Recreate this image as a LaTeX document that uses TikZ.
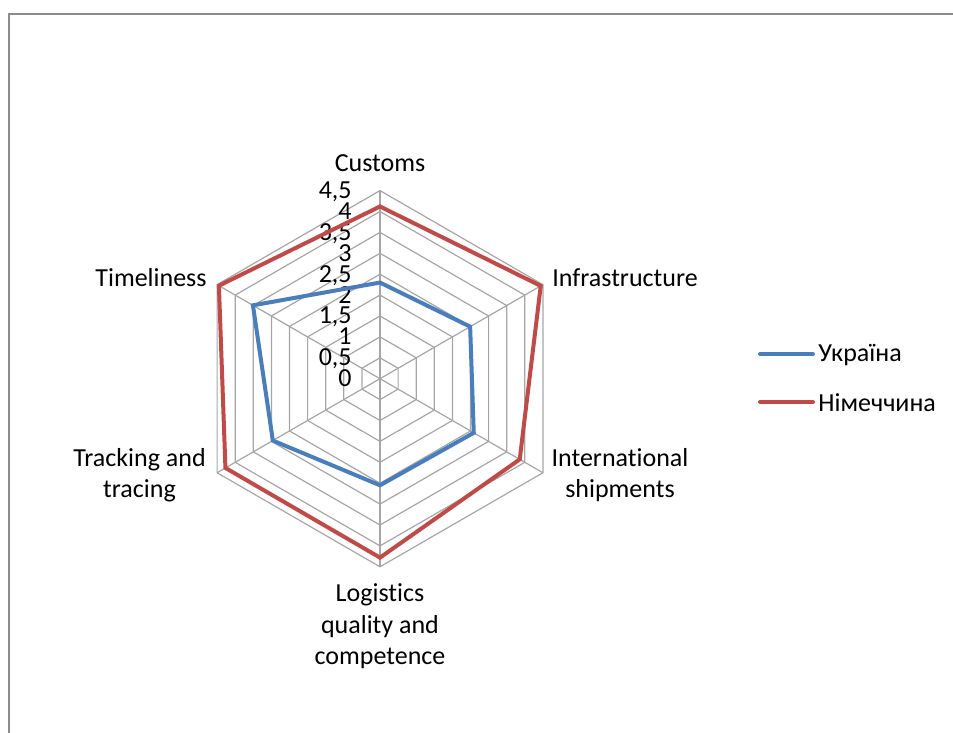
\documentclass[tikz,border=0pt]{standalone}
\usepackage{fontspec}
\setmainfont{Carlito}[Ligatures=NoCommon]
\usetikzlibrary{positioning}
\definecolor{ukrblue}{HTML}{4A7EBB}
\definecolor{deured}{HTML}{BE4B48}
\definecolor{gridgray}{HTML}{A6A6A6}
\definecolor{framegray}{HTML}{8C8C8C}
\tikzset{
  lbl/.style={font=\fontsize{13}{15.8}\selectfont, inner sep=0pt, align=center},
  ring/.style={gridgray, line width=0.6pt},
  serie/.style={line width=2pt, line join=miter}
}
\begin{document}
\begin{tikzpicture}[x=0.5pt,y=0.5pt]
  \useasboundingbox (0,0) rectangle (953,733);
  \draw[framegray, line width=1pt] (8.5,0) |- (953,718.5);
  \begin{scope}[shift={(380,354.3)}]
    % grille
    \foreach \r in {1,...,9}
      \draw[ring] (90:\r*20.9) \foreach \a in {30,-30,-90,-150,150} { -- (\a:\r*20.9) } -- cycle;
    \foreach \a in {90,30,-30,-90,-150,150}
      \draw[ring] (0,0) -- (\a:188.1);
    \foreach \t [count=\i from 0] in {0,{0,5},1,{1,5},2,{2,5},3,{3,5},4,{4,5}}
      \node[lbl, anchor=base east] (tick\i) at (-28,\i*20.9-8) {\t};
    % series
    \draw[serie, ukrblue] (90:2.30*41.8) -- (30:2.49*41.8) -- (-30:2.59*41.8)
      -- (-90:2.55*41.8) -- (-150:2.96*41.8) -- (150:3.51*41.8) -- cycle;
    \draw[serie, deured] (90:4.12*41.8) -- (30:4.44*41.8) -- (-30:3.86*41.8)
      -- (-90:4.28*41.8) -- (-150:4.27*41.8) -- (150:4.45*41.8) -- cycle;
  \end{scope}
  \node[lbl, anchor=base] (customs) at (380,561) {Customs};
  \node[lbl, anchor=base west] (infra) at (552,446) {Infrastructure};
  \node[lbl, anchor=base] (intl) at (620,235) {International\\shipments};
  \node[lbl, anchor=base] (quality) at (380,68) {Logistics\\quality and\\competence};
  \node[lbl, anchor=base] (tracking) at (139.5,235) {Tracking and\\tracing};
  \node[lbl, anchor=base east] (timeliness) at (207,446) {Timeliness};
  % legend
  \coordinate (ua) at (760,379);
  \coordinate (de) at (760,331);
  \node[lbl, anchor=base west] (ualbl) at (818,371.3) {Україна};
  \node[lbl, anchor=base west] (delbl) at (818,321.3) {Німеччина};
  \draw[serie, ukrblue, line cap=round] (ua) -- ++(53,0);
  \draw[serie, deured, line cap=round] (de) -- ++(53,0);
\end{tikzpicture}
\end{document}
